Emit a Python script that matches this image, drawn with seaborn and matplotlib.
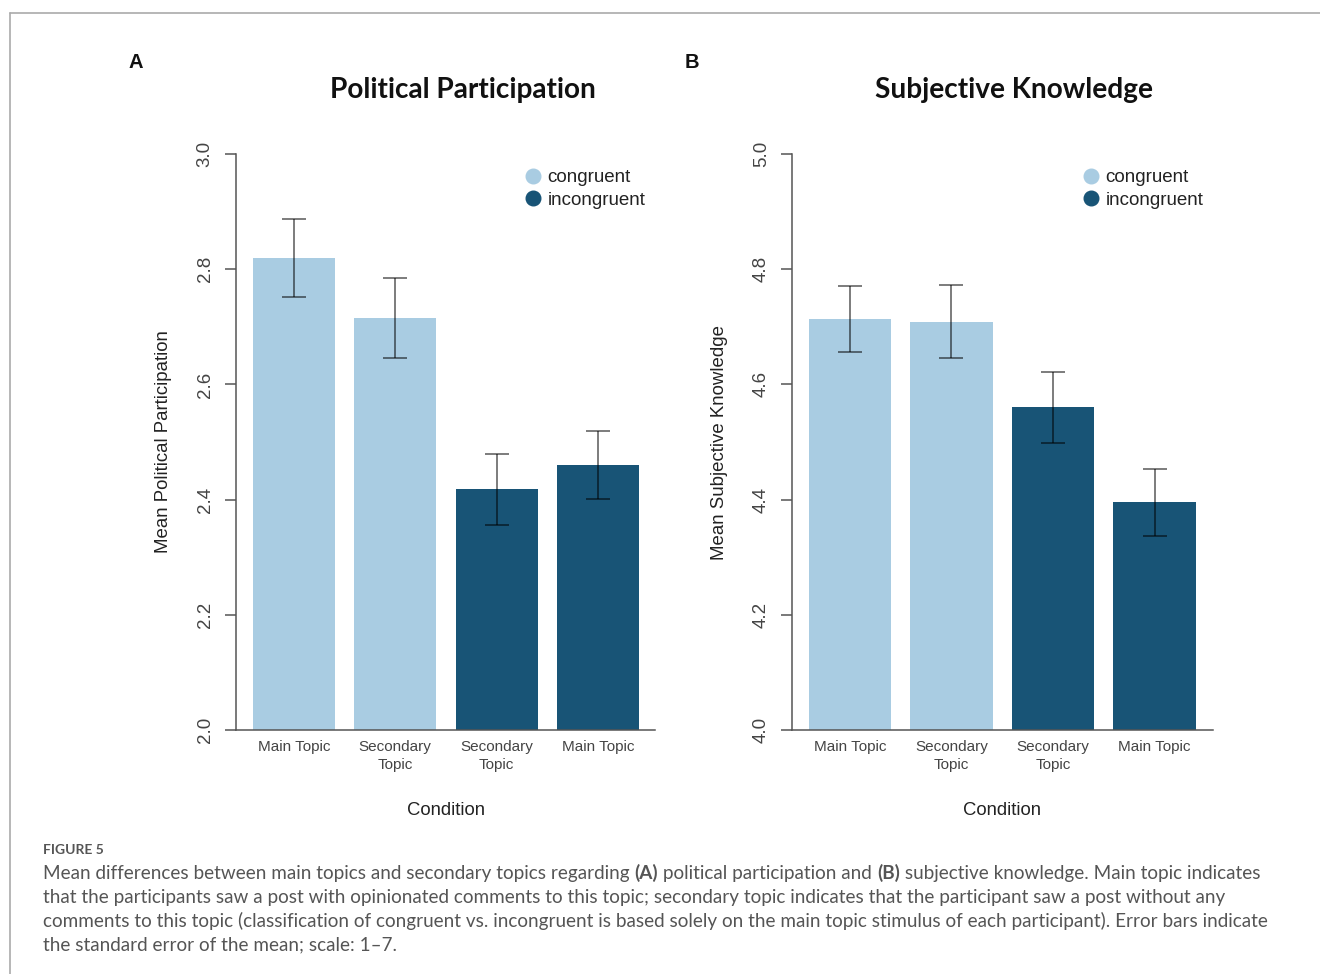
import matplotlib
matplotlib.use("Agg")
import matplotlib.pyplot as plt
from matplotlib.lines import Line2D
import seaborn as sns
import pandas as pd

# Condition order on the x axis and the group each bar belongs to
conditions = ["cong_main", "cong_secondary", "incong_secondary", "incong_main"]
condition_labels = ["Main Topic", "Secondary\nTopic", "Secondary\nTopic", "Main Topic"]
groups = ["congruent", "congruent", "incongruent", "incongruent"]

# Means and standard errors
participation_mean = [2.82, 2.715, 2.418, 2.46]
participation_se = [0.068, 0.07, 0.062, 0.059]
knowledge_mean = [4.714, 4.709, 4.56, 4.395]
knowledge_se = [0.057, 0.063, 0.062, 0.058]

participation_ticks = [2.0, 2.2, 2.4, 2.6, 2.8, 3.0]
knowledge_ticks = [4.0, 4.2, 4.4, 4.6, 4.8, 5.0]

palette = {"congruent": "#a9cce2", "incongruent": "#185476"}

W, H = 1320, 974
sns.set_theme(style="white")
plt.rcParams["font.family"] = ["Liberation Sans", "DejaVu Sans"]

fig = plt.figure(figsize=(W / 100, H / 100), dpi=100)


def px_axes(left, top, right, bottom):
    return fig.add_axes([left / W, 1 - bottom / H, (right - left) / W, (bottom - top) / H])


def draw_panel(ax, means, ses, ticks, ylabel, xlim):
    df = pd.DataFrame({"condition": conditions, "mean": means, "group": groups})
    sns.barplot(data=df, x="condition", y="mean", hue="group", order=conditions,
                palette=palette, saturation=1, dodge=False, width=0.81, linewidth=0,
                errorbar=None, legend=False, ax=ax)
    ax.errorbar(range(len(conditions)), means, yerr=ses, fmt="none",
                ecolor=(0, 0, 0, 0.6), elinewidth=1.2, capsize=8.5, capthick=1.2)
    ax.set_ylim(ticks[0], ticks[-1])
    ax.set_xlim(*xlim)
    ax.set_yticks(ticks)
    ax.set_yticklabels([f"{t:.1f}" for t in ticks], rotation=90, va="center",
                       fontsize=13.5, color="#444444")
    ax.tick_params(axis="y", left=True, length=8, width=1.1, color="#555555", pad=8)
    ax.tick_params(axis="x", bottom=False, pad=1)
    ax.set_xticks(range(len(conditions)))
    ax.set_xticklabels(condition_labels, fontsize=11, color="#444444", linespacing=1.35)
    for s in ["top", "right"]:
        ax.spines[s].set_visible(False)
    for s in ["left", "bottom"]:
        ax.spines[s].set_color("#555555")
        ax.spines[s].set_linewidth(1.1)
    ax.set_xlabel("Condition", fontsize=13.3, color="#222222", labelpad=22)
    ax.set_ylabel(ylabel, fontsize=13.4, color="#222222", labelpad=18)
    handles = [Line2D([], [], marker="o", linestyle="none", markersize=10.5,
                      markerfacecolor=palette[g], markeredgecolor=palette[g])
               for g in ["congruent", "incongruent"]]
    ax.legend(handles, ["congruent", "incongruent"], loc="upper right",
              bbox_to_anchor=(1.0, 0.99), frameon=False, fontsize=13.5,
              handletextpad=0.25, labelspacing=0.28, borderpad=0, handlelength=1.1,
              labelcolor="#222222")


axA = px_axes(236, 154, 655, 730)
draw_panel(axA, participation_mean, participation_se, participation_ticks,
           "Mean Political Participation", (-0.572, 3.563))
axB = px_axes(792, 154, 1213, 730)
draw_panel(axB, knowledge_mean, knowledge_se, knowledge_ticks,
           "Mean Subjective Knowledge", (-0.571, 3.576))

# Panel titles and letters
fig.text(463 / W, 1 - 90 / H, "Political Participation", family=["Lato", "DejaVu Sans"],
         fontweight="bold", fontsize=20.2, ha="center", va="center", color="#111111")
fig.text(1014 / W, 1 - 90 / H, "Subjective Knowledge", family=["Lato", "DejaVu Sans"],
         fontweight="bold", fontsize=20.2, ha="center", va="center", color="#111111")
fig.text(136 / W, 1 - 63 / H, "A", fontweight="bold", fontsize=14.5, ha="center", va="center",
         color="#111111")
fig.text(692 / W, 1 - 63 / H, "B", fontweight="bold", fontsize=14.5, ha="center", va="center",
         color="#111111")

# Frame around the figure
frame_kw = dict(color="#aaaaaa", linewidth=1.2, transform=fig.transFigure)
fig.add_artist(Line2D([10 / W, 1.0], [1 - 13 / H, 1 - 13 / H], **frame_kw))
fig.add_artist(Line2D([10 / W, 10 / W], [1 - 13 / H, 0.0], **frame_kw))

# Caption
cap_font = ["Lato", "DejaVu Sans"]
cap_color = "#555555"
fig.text(43 / W, 1 - 850 / H, "FIGURE 5", family=cap_font, fontsize=10, fontweight="bold",
         color=cap_color, va="center")

caption_lines = [
    [("Mean differences between main topics and secondary topics regarding ", "normal"),
     ("(A)", "bold"), (" political participation and ", "normal"), ("(B)", "bold"),
     (" subjective knowledge. Main topic indicates", "normal")],
    [("that the participants saw a post with opinionated comments to this topic; secondary "
      "topic indicates that the participant saw a post without any", "normal")],
    [("comments to this topic (classification of congruent vs. incongruent is based solely "
      "on the main topic stimulus of each participant). Error bars indicate", "normal")],
    [("the standard error of the mean; scale: 1\u20137.", "normal")],
]
renderer = fig.canvas.get_renderer()
for i, segments in enumerate(caption_lines):
    x = 43
    y = 873 + 24 * i
    for txt, weight in segments:
        t = fig.text(x / W, 1 - y / H, txt, family=cap_font, fontsize=13.6,
                     fontweight=weight, color=cap_color, va="center")
        bb = t.get_window_extent(renderer=renderer)
        x += bb.width

fig.savefig("out.png", dpi=100)
